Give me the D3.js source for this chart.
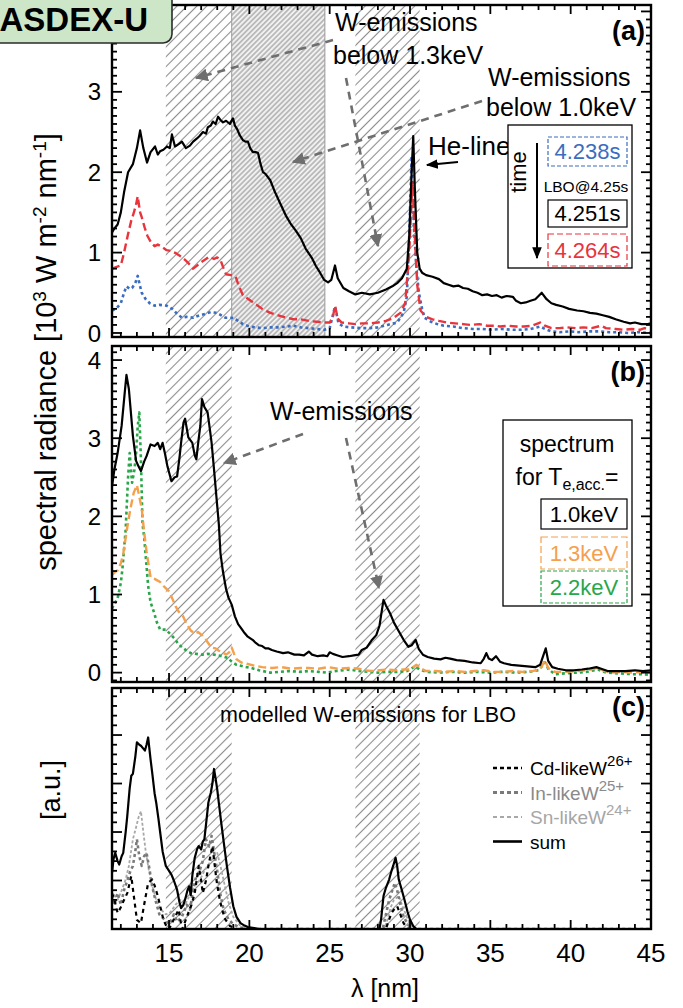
<!DOCTYPE html>
<html><head><meta charset="utf-8">
<script src="https://cdn.jsdelivr.net/npm/d3@7"></script>
<style>
body{margin:0;background:#fff}
text{font-family:"Liberation Sans",Arial,Helvetica,sans-serif}
</style>
</head><body>
<svg id="chart" width="683" height="1008"></svg>
<script>
// ---- wavelength axis ----
const lambdaDomain = [11.45, 45];
const xMajorTicks = [15, 20, 25, 30, 35, 40, 45];
const hatchBands = [[14.8, 18.9], [26.6, 30.6]];
const denseBand = [18.9, 24.7];

// ---- panel (a): spectra around the LBO at 4.25 s ----
const spec4251 = [[11.45,1.25],[11.6,1.3],[11.8,1.35],[12.0,1.5],[12.2,1.75],[12.45,2.0],[12.75,2.1],[13.0,2.3],[13.2,2.52],[13.4,2.3],[13.63,2.12],[13.85,2.25],[14.13,2.32],[14.3,2.22],[14.44,2.26],[14.65,2.28],[14.87,2.32],[15.05,2.3],[15.18,2.47],[15.37,2.32],[15.6,2.35],[15.8,2.38],[16.05,2.3],[16.3,2.33],[16.5,2.38],[16.74,2.42],[16.9,2.45],[17.11,2.5],[17.3,2.48],[17.42,2.56],[17.6,2.58],[17.73,2.63],[17.9,2.6],[18.05,2.69],[18.2,2.65],[18.36,2.62],[18.55,2.64],[18.79,2.6],[18.98,2.67],[19.1,2.58],[19.23,2.54],[19.4,2.46],[19.6,2.4],[19.75,2.38],[19.91,2.38],[20.05,2.3],[20.22,2.25],[20.4,2.25],[20.54,2.24],[20.7,2.1],[20.85,2.0],[21.0,1.98],[21.3,1.9],[21.6,1.75],[21.9,1.62],[22.3,1.45],[22.6,1.35],[22.9,1.27],[23.2,1.18],[23.5,1.05],[23.9,0.93],[24.15,0.83],[24.4,0.75],[24.66,0.66],[24.9,0.63],[25.1,0.66],[25.33,0.84],[25.5,0.68],[25.85,0.56],[26.2,0.52],[26.6,0.48],[27.0,0.5],[27.5,0.48],[28.0,0.5],[28.5,0.54],[28.9,0.58],[29.2,0.62],[29.5,0.68],[29.8,0.8],[29.95,1.2],[30.1,2.0],[30.2,2.45],[30.3,1.8],[30.45,1.0],[30.6,0.8],[30.75,0.75],[31.0,0.72],[31.4,0.7],[31.8,0.67],[32.1,0.62],[32.4,0.6],[32.7,0.58],[33.0,0.59],[33.3,0.56],[33.6,0.55],[33.9,0.52],[34.2,0.5],[34.5,0.47],[34.8,0.48],[35.1,0.46],[35.4,0.47],[35.7,0.44],[36.0,0.46],[36.4,0.45],[36.6,0.4],[36.9,0.37],[37.2,0.38],[37.5,0.4],[37.8,0.42],[38.2,0.5],[38.5,0.42],[38.8,0.37],[39.1,0.35],[39.5,0.33],[39.9,0.3],[40.4,0.28],[40.8,0.27],[41.2,0.25],[41.6,0.24],[42.0,0.22],[42.4,0.2],[42.8,0.17],[43.3,0.14],[43.7,0.12],[44.0,0.13],[44.4,0.11],[44.8,0.11],[45,0.12]];
const spec4264 = [[11.45,0.8],[11.7,0.82],[12.0,0.84],[12.2,1.0],[12.45,1.23],[12.65,1.4],[12.8,1.49],[12.95,1.6],[13.05,1.7],[13.2,1.5],[13.3,1.44],[13.5,1.3],[13.65,1.21],[13.9,1.12],[14.1,1.08],[14.3,1.1],[14.5,1.08],[14.85,1.03],[15.1,1.02],[15.45,0.99],[15.75,0.95],[16.05,0.9],[16.3,0.85],[16.5,0.8],[16.75,0.84],[17.0,0.88],[17.3,0.92],[17.5,0.95],[17.8,0.92],[18.0,0.94],[18.2,0.91],[18.4,0.8],[18.55,0.73],[18.85,0.72],[19.15,0.7],[19.35,0.58],[19.6,0.47],[19.95,0.42],[20.3,0.37],[20.8,0.3],[21.3,0.25],[21.8,0.22],[22.3,0.19],[22.8,0.17],[23.2,0.17],[23.7,0.15],[24.2,0.14],[24.65,0.13],[25.0,0.13],[25.2,0.2],[25.33,0.34],[25.5,0.18],[25.75,0.13],[26.2,0.12],[26.6,0.11],[27.0,0.12],[27.5,0.12],[28.0,0.13],[28.5,0.15],[29.0,0.19],[29.4,0.25],[29.7,0.37],[29.95,1.0],[30.15,1.87],[30.3,1.2],[30.45,0.6],[30.65,0.28],[31.0,0.2],[31.4,0.17],[31.8,0.15],[32.3,0.13],[32.8,0.12],[33.3,0.11],[33.8,0.1],[34.3,0.11],[34.8,0.09],[35.3,0.09],[35.6,0.08],[36.1,0.09],[36.6,0.08],[37.1,0.08],[37.6,0.09],[38.1,0.13],[38.4,0.09],[38.8,0.06],[39.3,0.06],[39.8,0.07],[40.3,0.06],[40.8,0.07],[41.3,0.06],[41.9,0.09],[42.2,0.06],[42.8,0.05],[43.3,0.04],[43.8,0.05],[44.3,0.04],[44.6,0.06],[45,0.05]];
const spec4238 = [[11.45,0.28],[11.7,0.3],[12.0,0.37],[12.2,0.5],[12.35,0.58],[12.55,0.55],[12.7,0.56],[12.9,0.62],[13.05,0.71],[13.2,0.58],[13.3,0.5],[13.55,0.42],[13.8,0.37],[14.1,0.34],[14.4,0.35],[14.85,0.34],[15.2,0.3],[15.5,0.24],[15.8,0.19],[16.1,0.2],[16.5,0.19],[16.9,0.22],[17.3,0.24],[17.6,0.26],[18.0,0.25],[18.25,0.22],[18.5,0.19],[19.0,0.19],[19.3,0.15],[19.6,0.11],[20.0,0.08],[20.4,0.07],[20.8,0.06],[21.3,0.07],[21.8,0.07],[22.3,0.08],[22.75,0.09],[23.2,0.07],[23.7,0.06],[24.2,0.05],[24.65,0.04],[25.0,0.06],[25.33,0.33],[25.55,0.12],[25.85,0.08],[26.3,0.07],[26.9,0.06],[27.5,0.06],[28.0,0.07],[28.6,0.1],[29.2,0.13],[29.6,0.25],[29.8,0.45],[29.95,1.2],[30.1,2.2],[30.25,1.3],[30.4,0.8],[30.55,0.5],[30.75,0.3],[30.9,0.19],[31.3,0.14],[31.7,0.11],[32.1,0.09],[32.7,0.08],[33.3,0.06],[33.9,0.05],[34.5,0.05],[35.1,0.04],[35.7,0.05],[36.3,0.04],[36.9,0.04],[37.5,0.05],[38.1,0.08],[38.4,0.05],[38.8,0.02],[39.3,0.01],[39.9,0.02],[40.5,0.01],[41.2,0.02],[41.8,0.02],[42.4,0.01],[43.0,0.01],[43.6,0.0],[44.2,0.01],[45,0.0]];

// ---- panel (b): modelled spectra for different accumulated Te ----
const te10 = [[11.45,2.38],[11.6,2.6],[11.8,2.81],[12.05,3.16],[12.25,3.6],[12.35,3.81],[12.5,3.63],[12.75,3.03],[12.95,2.71],[13.1,2.64],[13.25,2.58],[13.45,2.7],[13.6,2.77],[13.85,2.92],[14.1,2.9],[14.3,2.94],[14.45,2.86],[14.6,2.94],[14.75,2.8],[14.9,2.64],[15.15,2.45],[15.35,2.5],[15.5,2.51],[15.65,2.75],[15.75,2.94],[15.9,3.2],[16.0,3.25],[16.2,3.01],[16.45,2.94],[16.6,2.78],[16.7,2.73],[16.85,3.0],[16.95,3.16],[17.05,3.5],[17.2,3.4],[17.4,3.33],[17.55,3.1],[17.65,2.94],[17.8,2.6],[17.95,2.25],[18.1,1.9],[18.2,1.53],[18.35,1.3],[18.55,1.07],[18.7,0.96],[18.9,0.87],[19.1,0.72],[19.3,0.62],[19.45,0.58],[19.65,0.52],[19.9,0.46],[20.2,0.42],[20.4,0.38],[20.6,0.35],[20.8,0.34],[21.0,0.31],[21.2,0.31],[21.4,0.29],[21.7,0.27],[22.1,0.25],[22.4,0.26],[22.8,0.23],[23.1,0.23],[23.4,0.22],[23.7,0.27],[23.9,0.23],[24.25,0.21],[24.6,0.22],[24.85,0.21],[25.0,0.26],[25.2,0.24],[25.5,0.22],[25.8,0.2],[26.2,0.21],[26.5,0.22],[26.8,0.23],[27.0,0.29],[27.3,0.32],[27.6,0.41],[27.9,0.48],[28.1,0.6],[28.25,0.8],[28.35,0.93],[28.5,0.86],[28.65,0.8],[28.8,0.74],[29.0,0.64],[29.3,0.53],[29.6,0.42],[29.9,0.33],[30.1,0.35],[30.35,0.42],[30.55,0.3],[30.8,0.23],[31.1,0.2],[31.5,0.18],[31.9,0.17],[32.2,0.19],[32.5,0.18],[32.9,0.16],[33.4,0.15],[33.9,0.13],[34.4,0.12],[34.6,0.18],[34.75,0.25],[34.9,0.18],[35.1,0.16],[35.35,0.21],[35.6,0.14],[35.85,0.12],[36.3,0.1],[36.8,0.09],[37.3,0.08],[37.8,0.07],[38.1,0.1],[38.3,0.22],[38.45,0.31],[38.6,0.15],[38.85,0.07],[39.2,0.05],[39.7,0.03],[40.2,0.03],[40.7,0.04],[41.1,0.05],[41.6,0.07],[41.9,0.05],[42.3,0.02],[42.8,0.02],[43.4,0.02],[44.0,0.03],[44.5,0.02],[45,0.03]];
const te13 = [[11.45,1.25],[11.6,1.28],[11.8,1.31],[12.0,1.4],[12.15,1.52],[12.4,1.86],[12.6,2.1],[12.8,2.3],[13.0,2.4],[13.15,2.25],[13.3,2.1],[13.45,1.8],[13.6,1.55],[13.75,1.35],[13.85,1.22],[14.1,1.2],[14.45,1.16],[14.7,1.1],[15.0,1.04],[15.2,0.95],[15.4,0.85],[15.6,0.78],[15.85,0.73],[16.1,0.62],[16.35,0.54],[16.6,0.5],[16.8,0.52],[17.05,0.48],[17.3,0.42],[17.5,0.36],[17.65,0.32],[17.9,0.31],[18.1,0.28],[18.35,0.26],[18.55,0.23],[18.75,0.26],[18.9,0.32],[19.05,0.24],[19.2,0.17],[19.5,0.13],[19.9,0.11],[20.3,0.09],[20.8,0.07],[21.4,0.06],[22.0,0.07],[22.6,0.05],[23.2,0.06],[23.7,0.06],[24.3,0.05],[24.9,0.07],[25.5,0.05],[26.2,0.06],[26.8,0.05],[27.2,0.03],[27.6,0.02],[28.1,0.03],[28.6,0.04],[29.1,0.03],[29.6,0.04],[30.0,0.04],[30.4,0.1],[30.7,0.05],[31.0,0.02],[31.6,0.02],[32.2,0.01],[32.8,0.02],[33.4,0.01],[34.0,0.02],[34.6,0.03],[35.2,0.01],[35.8,0.01],[36.4,0.02],[37.0,0.01],[37.6,0.02],[38.1,0.04],[38.4,0.16],[38.6,0.06],[39.0,0.01],[39.6,0.01],[40.4,0.02],[41.0,0.03],[41.7,0.06],[42.1,0.02],[42.5,0.0],[43.2,0.01],[43.9,0.0],[44.5,0.01],[45,0.0]];
const te22 = [[11.45,0.82],[11.6,0.88],[11.8,0.95],[12.0,1.15],[12.1,1.33],[12.3,1.83],[12.45,2.5],[12.55,2.81],[12.7,2.43],[12.85,2.6],[12.95,2.81],[13.05,3.15],[13.15,3.33],[13.25,2.73],[13.35,1.9],[13.45,1.74],[13.7,1.11],[13.85,0.9],[14.05,0.78],[14.25,0.64],[14.45,0.55],[14.8,0.55],[15.15,0.48],[15.4,0.42],[15.6,0.36],[15.85,0.32],[16.1,0.28],[16.35,0.25],[16.7,0.24],[17.05,0.23],[17.4,0.24],[17.8,0.23],[18.05,0.22],[18.3,0.21],[18.65,0.19],[18.9,0.14],[19.2,0.1],[19.6,0.08],[20.1,0.06],[20.6,0.03],[21.3,0.0],[21.9,0.01],[22.5,0.02],[23.1,0.01],[23.7,0.02],[24.3,0.01],[24.8,0.0],[25.4,0.02],[26.2,0.04],[26.8,0.02],[27.4,0.01],[28.0,0.0],[28.6,0.01],[29.2,0.01],[29.8,0.02],[30.3,0.08],[30.6,0.04],[31.0,0.01],[31.8,0.0],[32.6,0.01],[33.4,0.0],[34.2,0.01],[35.0,0.0],[35.8,0.01],[36.6,0.0],[37.4,0.01],[38.0,0.03],[38.4,0.13],[38.6,0.05],[39.0,-0.02],[39.6,-0.01],[40.4,0.0],[41.0,0.01],[41.7,0.04],[42.2,0.0],[43.0,-0.01],[43.8,-0.02],[44.5,-0.02],[45,-0.03]];

// ---- panel (c): modelled W emission per charge state ----
const cdLike = [[11.45,0.74],[11.6,0.6],[11.8,0.33],[12.0,0.45],[12.2,0.6],[12.4,0.74],[12.65,1.09],[12.8,0.7],[13.0,0.19],[13.25,0.12],[13.45,0.5],[13.7,0.95],[13.95,1.02],[14.1,0.9],[14.3,0.68],[14.5,0.4],[14.65,0.19],[14.85,0.05],[15.0,0.0],[15.3,0.2],[15.6,0.4],[15.75,0.1],[15.85,0.0],[16.0,0.15],[16.2,0.33],[16.4,0.5],[16.6,0.74],[16.85,1.3],[17.0,1.0],[17.1,0.74],[17.3,1.0],[17.45,1.3],[17.7,1.71],[17.95,1.02],[18.1,0.7],[18.3,0.4],[18.5,0.2],[18.8,0.06],[19.2,0.0],[28.5,0.0],[28.7,0.2],[28.85,0.33],[29.0,0.4],[29.2,0.47],[29.4,0.3],[29.6,0.12],[29.9,0.0],[45,0.0]];
const inLike = [[11.45,0.7],[11.6,0.5],[11.8,0.74],[12.0,0.5],[12.2,0.8],[12.4,1.0],[12.6,1.2],[12.75,1.3],[12.9,1.6],[13.0,1.85],[13.15,1.5],[13.3,1.3],[13.45,1.5],[13.6,1.57],[13.8,1.2],[13.95,0.88],[14.15,0.6],[14.4,0.3],[14.7,0.2],[15.0,0.1],[15.3,0.3],[15.5,0.15],[15.8,0.25],[16.1,0.5],[16.3,0.4],[16.5,0.8],[16.7,1.1],[16.9,1.2],[17.1,1.4],[17.3,1.85],[17.5,1.7],[17.65,1.92],[17.8,1.6],[18.0,1.2],[18.2,0.7],[18.4,0.4],[18.7,0.2],[19.0,0.1],[19.4,0.03],[20.0,0.0],[28.3,0.0],[28.5,0.3],[28.7,0.6],[28.9,0.8],[29.05,0.95],[29.2,0.8],[29.4,0.5],[29.6,0.25],[29.9,0.08],[30.2,0.0],[45,0.0]];
const snLike = [[11.45,0.6],[11.6,0.7],[11.8,0.6],[12.0,0.75],[12.3,1.02],[12.5,1.3],[12.75,1.85],[12.95,2.1],[13.1,2.3],[13.25,2.43],[13.4,2.0],[13.55,1.6],[13.75,1.2],[13.95,0.9],[14.2,0.6],[14.5,0.4],[14.8,0.3],[15.1,0.35],[15.4,0.5],[15.7,0.6],[16.0,0.5],[16.3,0.7],[16.6,0.9],[16.9,1.0],[17.2,1.2],[17.5,1.35],[17.8,1.5],[18.0,1.57],[18.2,1.3],[18.4,1.0],[18.7,0.55],[19.0,0.25],[19.4,0.08],[19.9,0.02],[20.5,0.0],[28.4,0.0],[28.6,0.2],[28.8,0.45],[29.0,0.6],[29.3,0.68],[29.5,0.5],[29.8,0.25],[30.1,0.05],[30.4,0.0],[45,0.0]];
const sumW = [[11.45,1.16],[11.55,1.45],[11.65,1.57],[11.8,1.4],[11.9,1.33],[12.05,1.5],[12.15,1.57],[12.3,2.0],[12.4,2.33],[12.55,2.9],[12.65,3.16],[12.75,3.2],[12.9,3.55],[13.0,3.85],[13.15,3.8],[13.25,3.78],[13.4,3.72],[13.5,3.68],[13.6,3.8],[13.7,3.95],[13.85,3.5],[13.95,3.23],[14.1,2.8],[14.2,2.61],[14.35,2.25],[14.45,1.99],[14.6,1.6],[14.8,1.3],[15.0,1.2],[15.15,1.12],[15.3,1.0],[15.5,0.81],[15.65,0.55],[15.75,0.43],[15.9,0.5],[16.0,0.61],[16.15,0.8],[16.25,0.88],[16.35,0.7],[16.45,1.1],[16.6,1.47],[16.75,1.65],[16.85,1.71],[17.0,1.64],[17.1,1.8],[17.2,1.85],[17.35,2.3],[17.45,2.61],[17.6,2.81],[17.7,3.0],[17.8,3.3],[17.9,3.1],[18.0,2.88],[18.1,2.6],[18.25,2.19],[18.4,1.8],[18.6,1.3],[18.8,0.85],[19.0,0.47],[19.2,0.25],[19.45,0.12],[19.7,0.07],[19.9,0.04],[20.3,0.02],[20.6,0.0],[28.1,0.0],[28.2,0.2],[28.35,0.68],[28.5,0.85],[28.7,1.02],[28.85,1.2],[28.95,1.3],[29.1,1.47],[29.2,1.3],[29.3,1.02],[29.45,0.85],[29.65,0.61],[29.85,0.35],[30.0,0.19],[30.2,0.06],[30.4,0.0],[45,0.0]];

// ---- legend labels ----
const timeLabels = ["4.238s", "4.251s", "4.264s"];
const teLabels = ["1.0keV", "1.3keV", "2.2keV"];
const ionLabels = [["Cd-likeW", "26+"], ["In-likeW", "25+"], ["Sn-likeW", "24+"], ["sum", ""]];

const C = {blue:"#3b6dbf", red:"#e8343c", orange:"#f5a04c", green:"#2aa64a", arrow:"#6e6e6e", hatch:"#8c8c8c"};

const svg = d3.select("#chart");
const defs = svg.append("defs");
function hatch(id, s, w) {
  const p = defs.append("pattern").attr("id", id).attr("patternUnits", "userSpaceOnUse")
    .attr("width", s).attr("height", s).attr("patternTransform", "rotate(45)");
  p.append("line").attr("x1", s/2).attr("x2", s/2).attr("y1", 0).attr("y2", s)
    .attr("stroke", C.hatch).attr("stroke-width", w);
}
hatch("hatchWide", 7, 1.1);
hatch("hatchDense", 3.6, 1.0);
const ah = defs.append("marker").attr("id","ahGray").attr("viewBox","0 0 10 10").attr("refX",9).attr("refY",5)
  .attr("markerWidth",5).attr("markerHeight",5).attr("orient","auto").attr("markerUnits","strokeWidth");
ah.append("path").attr("d","M0,0L10,5L0,10z").attr("fill",C.arrow);
const ahB = defs.append("marker").attr("id","ahBlack").attr("viewBox","0 0 10 10").attr("refX",9).attr("refY",5)
  .attr("markerWidth",6).attr("markerHeight",6).attr("orient","auto").attr("markerUnits","strokeWidth");
ahB.append("path").attr("d","M0,1L10,5L0,9z").attr("fill","#000");

const X0 = 112, X1 = 651;
const x = d3.scaleLinear().domain(lambdaDomain).range([X0, X1]);

const panels = {
  a: {top: 5, bottom: 337, domain: [-0.05, 4.08], major: [0,1,2,3,4], minorPerUnit: 10, labels: [0,1,2,3]},
  b: {top: 346, bottom: 682, domain: [-0.12, 4.18], major: [0,1,2,3,4], minorPerUnit: 10, labels: [0,1,2,3,4]},
  c: {top: 688, bottom: 929, domain: [0, 4.97], major: [1,2,3,4], minorPerUnit: 5, labels: []}
};

function setupPanel(key) {
  const P = panels[key];
  P.y = d3.scaleLinear().domain(P.domain).range([P.bottom, P.top]);
  P.g = svg.append("g");
  defs.append("clipPath").attr("id", "clip" + key).append("rect")
    .attr("x", X0).attr("y", P.top).attr("width", X1 - X0).attr("height", P.bottom - P.top);
  P.plot = P.g.append("g").attr("clip-path", `url(#clip${key})`);
  hatchBands.forEach(b => P.plot.append("rect").attr("x", x(b[0])).attr("width", x(b[1]) - x(b[0]))
    .attr("y", P.top).attr("height", P.bottom - P.top).attr("fill", "url(#hatchWide)"));
  return P;
}

function curve(P, data, color, width, dash) {
  const line = d3.line().x(d => x(d[0])).y(d => P.y(d[1]));
  P.plot.append("path").datum(data).attr("d", line).attr("fill", "none")
    .attr("stroke", color).attr("stroke-width", width)
    .attr("stroke-dasharray", dash || null).attr("stroke-linejoin", "round");
}

function frame(P) {
  const g = P.g.append("g").attr("stroke", "#000").attr("stroke-width", 1.8);
  const xMinor = d3.range(12, 46).filter(v => xMajorTicks.indexOf(v) < 0);
  const xt = (v, len) => {
    g.append("line").attr("x1", x(v)).attr("x2", x(v)).attr("y1", P.bottom).attr("y2", P.bottom - len);
    g.append("line").attr("x1", x(v)).attr("x2", x(v)).attr("y1", P.top).attr("y2", P.top + len);
  };
  xMajorTicks.forEach(v => xt(v, 9));
  xMinor.forEach(v => xt(v, 5));
  const n = P.minorPerUnit;
  const yMinor = d3.range(Math.ceil(P.domain[0] * n), Math.floor(P.domain[1] * n) + 1).map(k => k / n)
    .filter(v => Math.abs(v - Math.round(v)) > 1e-6);
  const yt = (v, len) => {
    g.append("line").attr("x1", X0).attr("x2", X0 + len).attr("y1", P.y(v)).attr("y2", P.y(v));
    g.append("line").attr("x1", X1).attr("x2", X1 - len).attr("y1", P.y(v)).attr("y2", P.y(v));
  };
  P.major.forEach(v => yt(v, 10));
  yMinor.forEach(v => yt(v, 5));
  P.g.append("rect").attr("x", X0).attr("y", P.top).attr("width", X1 - X0).attr("height", P.bottom - P.top)
    .attr("fill", "none").attr("stroke", "#000").attr("stroke-width", 2.4);
  P.labels.forEach(v => P.g.append("text").attr("x", 101).attr("y", P.y(v)).attr("dy", "0.36em")
    .attr("text-anchor", "end").attr("font-size", 24).text(v));
}

function txt(g, xx, yy, s, size, opts = {}) {
  return g.append("text").attr("x", xx).attr("y", yy).attr("font-size", size)
    .attr("text-anchor", opts.anchor || "start").attr("fill", opts.fill || "#000")
    .attr("font-weight", opts.bold ? "bold" : null).text(s);
}
function dashedArrow(g, x1, y1, x2, y2) {
  g.append("line").attr("x1", x1).attr("y1", y1).attr("x2", x2).attr("y2", y2)
    .attr("stroke", C.arrow).attr("stroke-width", 2.6).attr("stroke-dasharray", "8,6")
    .attr("marker-end", "url(#ahGray)");
}

// ===== panel (a) =====
const A = setupPanel("a");
A.plot.append("rect").attr("x", x(denseBand[0])).attr("width", x(denseBand[1]) - x(denseBand[0]))
  .attr("y", A.top).attr("height", A.bottom - A.top).attr("fill", "#f1f1f1");
A.plot.append("rect").attr("x", x(denseBand[0])).attr("width", x(denseBand[1]) - x(denseBand[0]))
  .attr("y", A.top).attr("height", A.bottom - A.top).attr("fill", "url(#hatchDense)");
denseBand.forEach(v => A.plot.append("line").attr("x1", x(v)).attr("x2", x(v)).attr("y1", A.top).attr("y2", A.bottom)
  .attr("stroke", "#9a9a9a").attr("stroke-width", 1));
curve(A, spec4238, C.blue, 2.6, "3,3");
curve(A, spec4264, C.red, 2.4, "8,4");
curve(A, spec4251, "#000", 2.2);
frame(A);

txt(svg, 335, 31, "W-emissions", 25);
txt(svg, 333, 64, "below 1.3keV", 25);
txt(svg, 488, 86, "W-emissions", 25);
txt(svg, 486, 116, "below 1.0keV", 25);
txt(svg, 645, 40, "(a)", 27, {anchor: "end", bold: true});
txt(svg, 428, 155, "He-line", 26);
svg.append("line").attr("x1", 458).attr("y1", 162).attr("x2", 427).attr("y2", 165)
  .attr("stroke", "#000").attr("stroke-width", 2).attr("marker-end", "url(#ahBlack)");
dashedArrow(svg, 333, 40, 196, 78);
dashedArrow(svg, 482, 101, 293, 162);
dashedArrow(svg, 346, 78, 378, 246);

// time legend
const lgA = svg.append("g");
lgA.append("rect").attr("x", 508).attr("y", 125).attr("width", 124).attr("height", 143)
  .attr("fill", "#fff").attr("stroke", "#000").attr("stroke-width", 1.3);
lgA.append("text").attr("transform", "translate(526,172) rotate(-90)").attr("text-anchor", "middle")
  .attr("font-size", 22).text("time");
lgA.append("line").attr("x1", 537).attr("x2", 537).attr("y1", 143).attr("y2", 258)
  .attr("stroke", "#000").attr("stroke-width", 2).attr("marker-end", "url(#ahBlack)");
const boxA = [{y: 137, h: 29, c: C.blue, dash: "4,2"}, {y: 200, h: 27, c: "#000", dash: null}, {y: 234, h: 32, c: C.red, dash: "6,3"}];
boxA.forEach((b, i) => {
  lgA.append("rect").attr("x", 548).attr("y", b.y).attr("width", 79).attr("height", b.h)
    .attr("fill", "none").attr("stroke", b.c).attr("stroke-width", 1.2).attr("stroke-dasharray", b.dash);
  txt(lgA, 587.5, b.y + b.h / 2, timeLabels[i], 22, {anchor: "middle", fill: b.c}).attr("dy", "0.36em");
});
txt(lgA, 586, 192, "LBO@4.25s", 15.5, {anchor: "middle"});

// ===== panel (b) =====
const B = setupPanel("b");
curve(B, te22, C.green, 2.6, "3,3");
curve(B, te13, C.orange, 2.4, "8,4");
curve(B, te10, "#000", 2.2);
frame(B);
txt(svg, 645, 381, "(b)", 27, {anchor: "end", bold: true});
txt(svg, 270, 420, "W-emissions", 25);
dashedArrow(svg, 303, 434, 224, 463);
dashedArrow(svg, 346, 438, 379, 588);

const lgB = svg.append("g");
lgB.append("rect").attr("x", 503).attr("y", 420).attr("width", 129).attr("height", 186)
  .attr("fill", "#fff").attr("stroke", "#000").attr("stroke-width", 1.3);
txt(lgB, 567, 452, "spectrum", 23, {anchor: "middle"});
const forT = lgB.append("text").attr("x", 567).attr("y", 485).attr("font-size", 23).attr("text-anchor", "middle");
forT.append("tspan").text("for T");
forT.append("tspan").attr("dy", 5).attr("font-size", 16).text("e,acc.");
forT.append("tspan").attr("dy", -5).text("=");
const boxB = [{y: 499, h: 30, c: "#000", dash: null}, {y: 537, h: 32, c: C.orange, dash: "7,3"}, {y: 571, h: 32, c: C.green, dash: "4,2"}];
boxB.forEach((b, i) => {
  lgB.append("rect").attr("x", 541).attr("y", b.y).attr("width", 86).attr("height", b.h)
    .attr("fill", "none").attr("stroke", b.c).attr("stroke-width", 1.2).attr("stroke-dasharray", b.dash);
  txt(lgB, 584, b.y + b.h / 2, teLabels[i], 22, {anchor: "middle", fill: b.c}).attr("dy", "0.36em");
});

// ===== panel (c) =====
const Cp = setupPanel("c");
curve(Cp, snLike, "#a8a8a8", 1.8, "3,2");
curve(Cp, inLike, "#7a7a7a", 2.6, "3,3");
curve(Cp, cdLike, "#000", 2.2, "4,4");
curve(Cp, sumW, "#000", 2.2);
frame(Cp);
txt(svg, 645, 716, "(c)", 27, {anchor: "end", bold: true});
txt(svg, 220, 722, "modelled W-emissions for LBO", 21.5);

const ionStyle = [{c: "#000", w: 2.4, d: "4,3", t: "#000"}, {c: "#7a7a7a", w: 3, d: "4,3", t: "#8a8a8a"},
                  {c: "#a8a8a8", w: 2, d: "4,3", t: "#a6a6a6"}, {c: "#000", w: 2.6, d: null, t: "#000"}];
ionLabels.forEach((lab, i) => {
  const yy = 768 + i * 24.5;
  const s = ionStyle[i];
  svg.append("line").attr("x1", 493).attr("x2", 522).attr("y1", yy).attr("y2", yy)
    .attr("stroke", s.c).attr("stroke-width", s.w).attr("stroke-dasharray", s.d);
  const t = svg.append("text").attr("x", 530).attr("y", yy + 7).attr("font-size", 19).attr("fill", s.t);
  t.append("tspan").text(lab[0]);
  if (lab[1]) t.append("tspan").attr("dy", -9).attr("font-size", 15).text(lab[1]);
});

// ===== shared axis labels =====
xMajorTicks.forEach(v => txt(svg, x(v), 962, v, 26, {anchor: "middle"}));
txt(svg, 385, 997, "λ [nm]", 25, {anchor: "middle"});

const yt = svg.append("text").attr("transform", "translate(56,352) rotate(-90)")
  .attr("text-anchor", "middle").attr("font-size", 29);
yt.append("tspan").text("spectral radiance [10");
yt.append("tspan").attr("dy", -10).attr("font-size", 19).text("3");
yt.append("tspan").attr("dy", 10).text(" W m");
yt.append("tspan").attr("dy", -10).attr("font-size", 19).text("-2");
yt.append("tspan").attr("dy", 10).text(" nm");
yt.append("tspan").attr("dy", -10).attr("font-size", 19).text("-1");
yt.append("tspan").attr("dy", 10).text("]");
svg.append("text").attr("transform", "translate(60,790) rotate(-90)").attr("text-anchor", "middle")
  .attr("font-size", 27).text("[a.u.]");

// ===== device badge =====
svg.append("rect").attr("x", -14).attr("y", -12).attr("width", 186).attr("height", 55).attr("rx", 9)
  .attr("fill", "#cde6c8").attr("stroke", "#2b2b2b").attr("stroke-width", 1.6);
txt(svg, 148, 31, "ASDEX-U", 33, {anchor: "end", bold: true});
</script>
</body></html>
